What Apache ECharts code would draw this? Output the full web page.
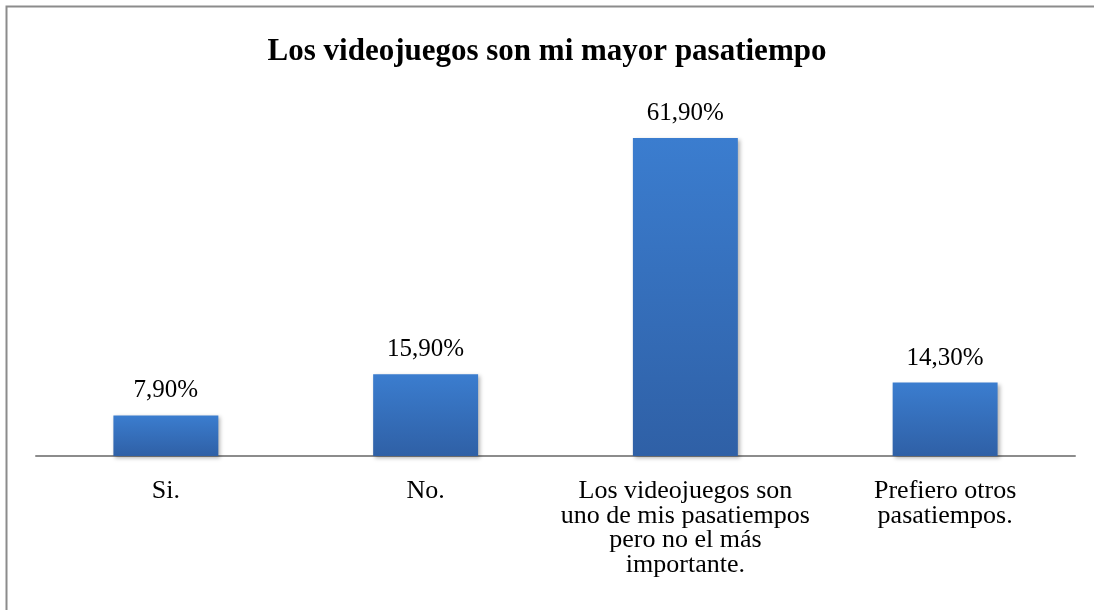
<!DOCTYPE html>
<html>
<head>
<meta charset="utf-8">
<script src="https://cdn.jsdelivr.net/npm/echarts@6/dist/echarts.min.js"></script>
<style>
  html, body { margin: 0; padding: 0; background: #fff; }
  #chart { width: 1094px; height: 610px; }
</style>
</head>
<body>
<div id="chart"></div>
<script>
// Survey answers and their shares (%)
const categories = [
  'Si.',
  'No.',
  'Los videojuegos son\nuno de mis pasatiempos\npero no el más\nimportante.',
  'Prefiero otros\npasatiempos.'
];
const values = [7.9, 15.9, 61.9, 14.3];
const titleText = 'Los videojuegos son mi mayor pasatiempo';

const serif = '"Liberation Serif", "Times New Roman", serif';

const chart = echarts.init(document.getElementById('chart'));
chart.setOption({
  animation: false,
  backgroundColor: '#ffffff',
  title: {
    text: titleText,
    left: 'center',
    top: 31,
    textStyle: { fontFamily: serif, fontSize: 31, fontWeight: 'bold', color: '#000' }
  },
  graphic: [{
    type: 'rect',
    shape: { x: 6.5, y: 6.5, width: 1200, height: 700 },
    style: { fill: 'none', stroke: '#8c8c8c', lineWidth: 2 },
    silent: true
  }],
  grid: { left: 36, right: 19, top: 96.4, bottom: 154, containLabel: false },
  xAxis: {
    type: 'category',
    data: categories,
    axisLine: { lineStyle: { color: '#8c8c8c', width: 2 } },
    axisTick: { show: false },
    axisLabel: {
      interval: 0,
      margin: 23,
      fontFamily: serif,
      fontSize: 26,
      lineHeight: 24.5,
      color: '#000'
    }
  },
  yAxis: {
    type: 'value',
    min: 0,
    max: 70,
    show: false
  },
  series: [{
    type: 'bar',
    data: values,
    barWidth: '40.4%',
    itemStyle: {
      color: new echarts.graphic.LinearGradient(0, 0, 0, 1, [
        { offset: 0, color: '#3b7dcf' },
        { offset: 1, color: '#2f60a6' }
      ]),
      shadowColor: 'rgba(0,0,0,0.3)',
      shadowBlur: 4,
      shadowOffsetX: 2,
      shadowOffsetY: 2
    },
    label: {
      show: true,
      position: 'top',
      distance: 12,
      fontFamily: serif,
      fontSize: 25,
      color: '#000',
      formatter: p => p.value.toFixed(2).replace('.', ',') + '%'
    }
  }]
});
</script>
</body>
</html>
